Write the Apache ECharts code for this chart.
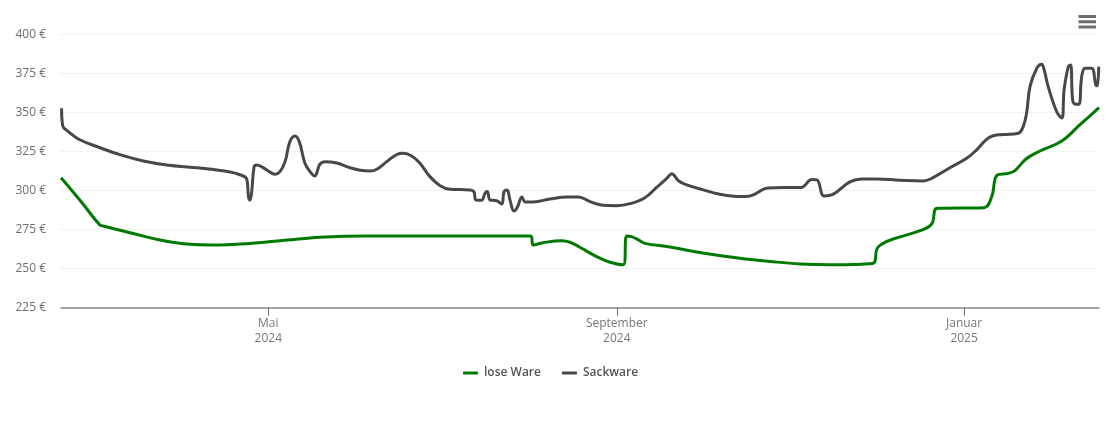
<!DOCTYPE html>
<html>
<head>
<meta charset="UTF-8">
<title>Preisverlauf</title>
<style>
html, body { margin: 0; padding: 0; background: #fff; }
#chart { width: 1110px; height: 422px; }
</style>
</head>
<body>
<div id="chart"></div>
<script src="https://cdn.jsdelivr.net/npm/echarts@6/dist/echarts.min.js"></script>
<script>
// x values are days counted from 18 Feb 2024
var lastDay = 365.5;

var yLabelSuffix = ' €';
var tickDays = [73, 195.7, 318];
var tickLabels = ['Mai\n2024', 'September\n2024', 'Januar\n2025'];

var loseName = 'lose Ware';
var loseDays = [0, 6.9, 13.7, 14.8, 25.4, 34.9, 43, 53.5, 65.5, 79.6, 91.2, 107.7, 165.4, 166.3, 169.7, 176.3, 179.2, 182.7, 188.6, 193.3, 198, 199.2, 200.9, 202.7, 205.6, 214.4, 226, 239, 249.6, 260.2, 270.8, 285.8, 287.4, 289.5, 293, 302.5, 306.6, 308.6, 325, 327.7, 329.7, 333.6, 335.9, 339.8, 344.7, 352.4, 358.9, 365.5];
var loseValues = [308.2, 293.3, 277.9, 277.3, 272.5, 268.3, 266, 265.1, 266, 268.3, 270.1, 270.9, 270.9, 265.1, 266.6, 267.9, 266.9, 263.7, 257.7, 254.1, 252.5, 270.9, 270.5, 269, 266.2, 263.9, 260, 256.6, 254.6, 253, 252.5, 253.3, 263, 266.2, 269, 274.3, 278.6, 288.6, 289, 296, 310, 311, 312.7, 320.2, 325.3, 331.7, 342.3, 353];

var sackName = 'Sackware';
var sackDays = [0.2, 0.6, 2.6, 6.1, 13.7, 21.9, 29, 37.2, 48.9, 59.5, 63, 65.4, 66, 66.5, 67.1, 68, 68.9, 72.4, 75.4, 77.1, 78.9, 80.6, 82.4, 83.9, 85.9, 87.7, 89.4, 90.2, 91.2, 93, 97.1, 101.8, 105.3, 108.8, 111.2, 114.7, 118.2, 120.5, 123.5, 126.4, 129.9, 133.5, 137, 144, 145.4, 146.1, 148.1, 149.3, 150.1, 151.1, 153.4, 155.2, 156, 157.1, 158.1, 159.5, 160.7, 162.3, 163.4, 166.3, 172.2, 178.1, 182.2, 186.3, 190.9, 195.7, 200.4, 205.6, 209.8, 213.3, 215.1, 217.4, 220.3, 226.2, 232, 239.1, 242.6, 248.9, 254.9, 260.6, 264.4, 266.2, 268.7, 271.8, 277.8, 282, 287.2, 295.4, 303.6, 306.6, 313, 318.9, 322.4, 325.9, 328.3, 331.8, 337.1, 338.8, 340, 341.2, 343.6, 345.3, 346.2, 347.6, 350.6, 352.4, 353.2, 354.7, 355.5, 356.2, 357, 358.4, 359.4, 360.6, 362.9, 364.4, 364.9, 365.4];
var sackValues = [352.7, 341.5, 337.7, 333, 327.4, 322.3, 318.9, 316.4, 314.4, 311.9, 310.1, 307.4, 296.1, 293.9, 298.4, 315.3, 316.4, 313.2, 310.4, 312.1, 318.5, 331.3, 334.9, 331.3, 317.4, 312.1, 309.3, 312.1, 317, 318.5, 317.6, 314.6, 313, 312.5, 313.6, 318.5, 323, 323.8, 322.1, 317.4, 308.9, 303.1, 300.8, 300.4, 299.3, 293.9, 293.8, 298.2, 299.3, 293.9, 293.5, 291.4, 299.3, 300.4, 293.9, 286.9, 289.3, 295.9, 292.7, 292.7, 294.6, 295.9, 295.9, 292.9, 290.6, 290.3, 291.6, 295.4, 302.1, 307.8, 310.8, 306.3, 303.6, 300.4, 297.6, 296.1, 296.5, 301.6, 302, 302, 307.1, 306.8, 296.5, 297.5, 305.5, 307.4, 307.4, 306.6, 306.1, 307.8, 314.6, 320.6, 326, 332.8, 335.1, 335.8, 336.7, 340.9, 349.5, 366.5, 378.3, 380.8, 377.2, 366.5, 350.5, 346.4, 364.4, 379.3, 380.4, 358, 355.4, 355.2, 372.9, 378.3, 378.3, 367.6, 367, 379.3];

function makeSeries(name, days, values, color) {
	var rows = [];
	for (var i = 0; i < days.length; i++) {
		rows.push([days[i], values[i]]);
	}
	return {
		name: name,
		type: 'line',
		data: rows,
		smooth: 0.4,
		showSymbol: false,
		symbol: 'none',
		itemStyle: { color: color },
		lineStyle: { color: color, width: 3 }
	};
}

var myChart = echarts.init(document.getElementById('chart'));

myChart.setOption({
	animation: false,
	textStyle: { fontFamily: '"Open Sans", "Noto Sans", sans-serif' },
	grid: { left: 61, right: 11, top: 34.3, bottom: 114.3 },
	toolbox: {
		right: -1,
		top: 0,
		itemSize: 17.5,
		feature: {
			myMenu: {
				show: true,
				title: 'Menu',
				icon: 'path://M0 0H18V3.2H0ZM0 5.4H18V8.6H0ZM0 10.8H18V14H0Z',
				onclick: function () {}
			}
		},
		iconStyle: { color: '#6e6e6e', borderColor: '#6e6e6e', borderWidth: 0 }
	},
	legend: {
		top: 362,
		left: 458,
		itemWidth: 15,
		itemHeight: 3,
		itemGap: 21,
		icon: 'roundRect',
		textStyle: { fontSize: 12, fontWeight: 600, color: '#555', padding: [0, 0, 0, 1] },
		data: [loseName, sackName]
	},
	xAxis: {
		type: 'value',
		min: 0,
		max: lastDay,
		axisLine: { onZero: false, lineStyle: { color: '#8a8a8a', width: 1.5 } },
		axisTick: { show: true, length: 8, lineStyle: { color: '#666' }, customValues: tickDays },
		splitLine: { show: false },
		axisLabel: {
			color: '#777',
			fontSize: 12,
			lineHeight: 15,
			margin: 8,
			hideOverlap: false,
			customValues: tickDays,
			formatter: function (value) {
				return tickLabels[tickDays.indexOf(value)];
			}
		}
	},
	yAxis: {
		type: 'value',
		min: 225,
		max: 400,
		interval: 25,
		axisLine: { show: false },
		axisTick: { show: false },
		splitLine: { lineStyle: { color: '#e6e6e6', type: 'dotted' } },
		axisLabel: {
			color: '#6e6e6e',
			fontSize: 12,
			margin: 15,
			padding: [4, 0, 0, 0],
			formatter: function (value) {
				return value + yLabelSuffix;
			}
		}
	},
	series: [
		makeSeries(loseName, loseDays, loseValues, '#007a00'),
		makeSeries(sackName, sackDays, sackValues, '#484848')
	]
});
</script>
</body>
</html>
